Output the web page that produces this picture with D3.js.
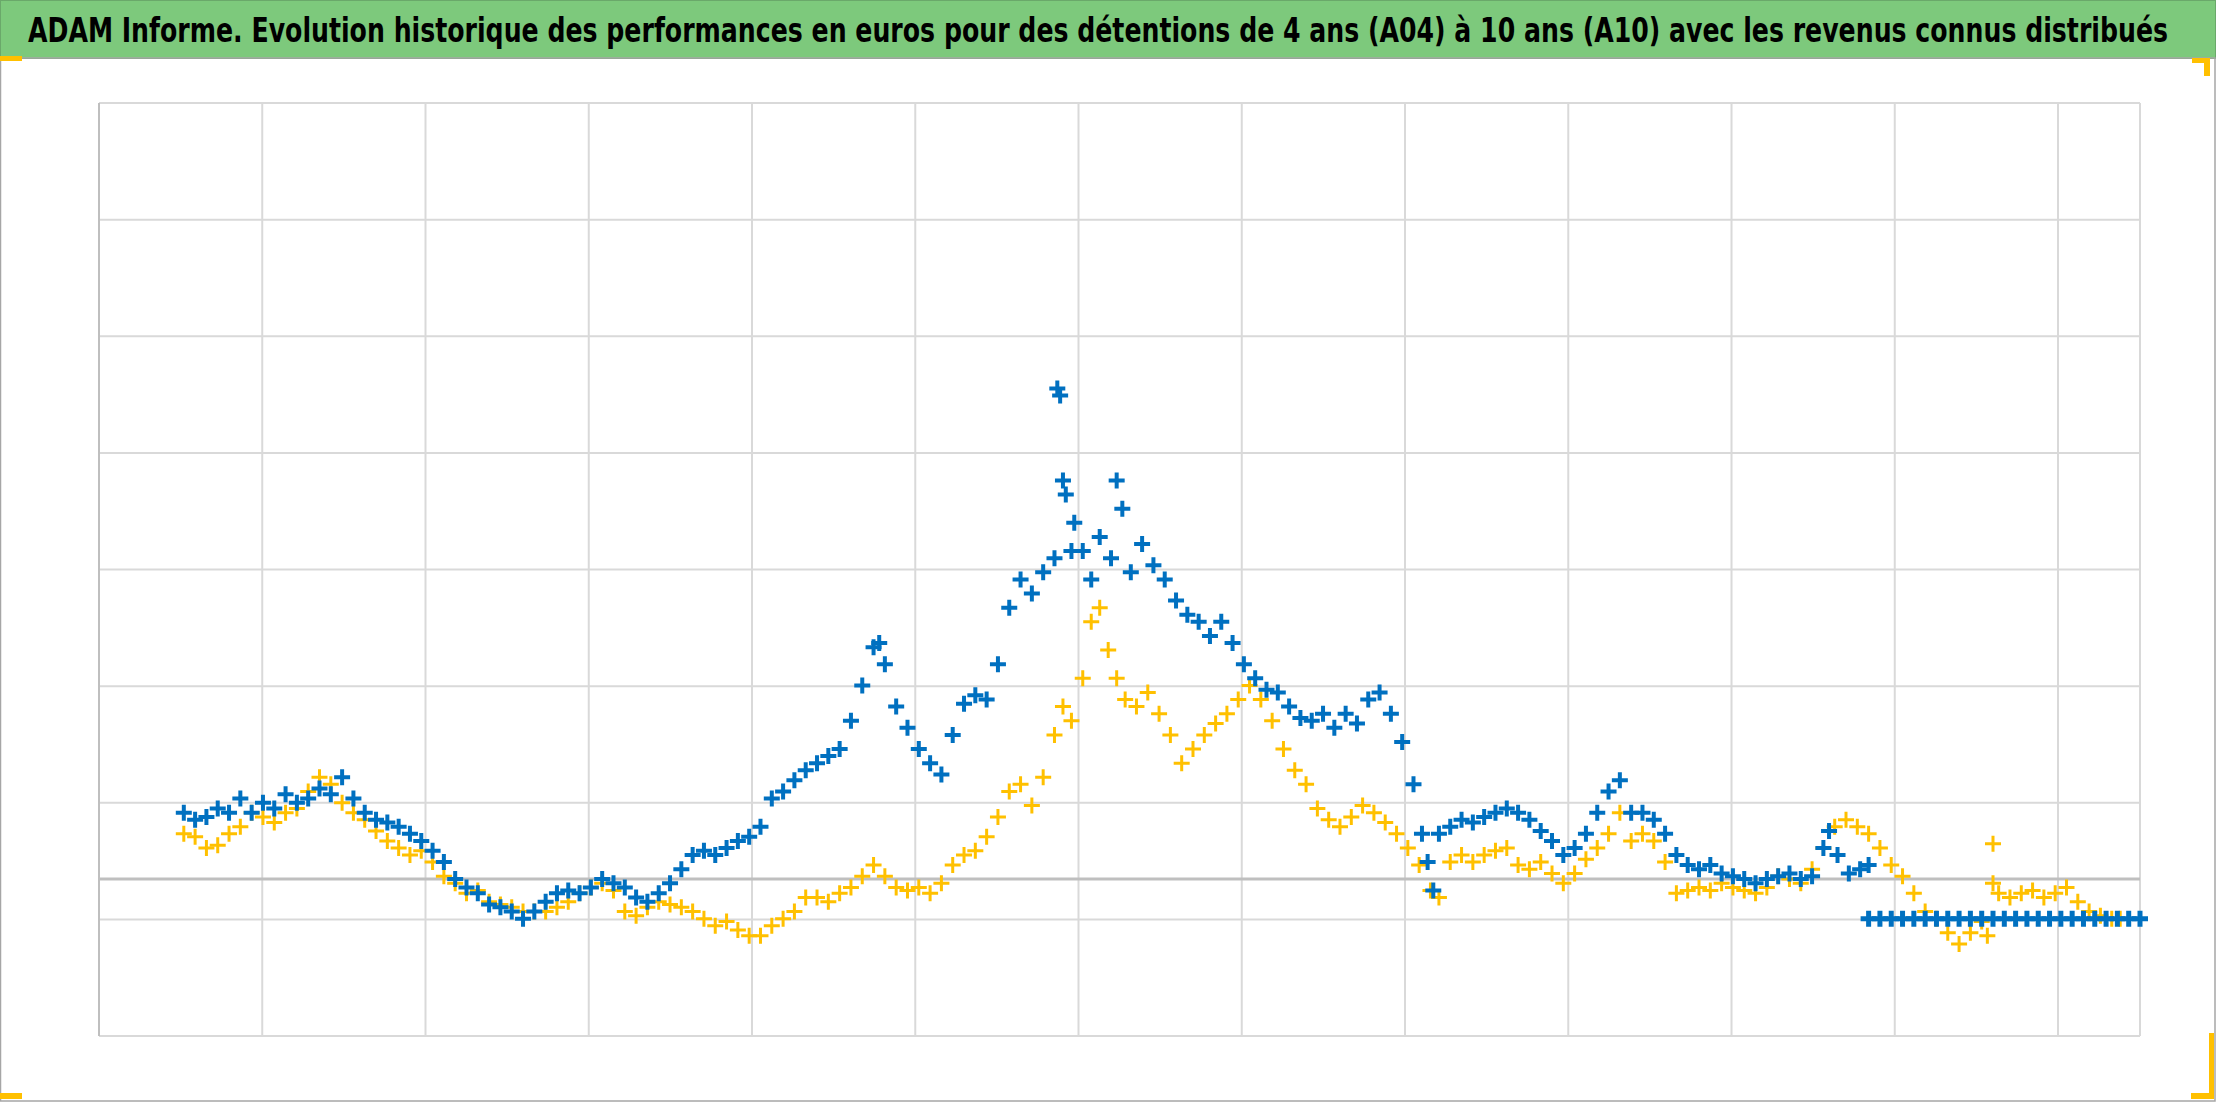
<!DOCTYPE html>
<html lang="fr">
<head>
<meta charset="UTF-8">
<title>ADAM Informe</title>
<script src="https://d3js.org/d3.v7.min.js"></script>
<style>
  body { margin: 0; background: #fff; }
  .grid line { stroke: #d9d9d9; stroke-width: 2px; }
  .mark { fill: none; }
</style>
</head>
<body>
<script>
// durée (index de jours) et performance en euros (échelle interne, pas d'étiquettes)
const titleText = "ADAM Informe. Evolution historique des performances en euros pour des détentions de 4 ans (A04) à 10 ans (A10) avec les revenus connus distribués";

const a10 = [[130,47],[138,42],[146,44],[154,50],[162,47],[170,57],[178,47],[186,54],[194,50],[202,60],[210,54],[218,57],[226,64],[234,60],[242,72],[250,57],[258,47],[266,42],[274,40],[282,37],[290,32],[298,27],[306,20],[314,12],[322,0],[330,-6],[338,-10],[346,-18],[354,-20],[362,-23],[370,-28],[378,-23],[386,-16],[394,-10],[402,-8],[410,-10],[418,-6],[426,0],[434,-3],[442,-6],[450,-13],[458,-16],[466,-10],[474,-3],[482,7],[490,17],[498,20],[506,17],[514,22],[522,27],[530,30],[538,37],[546,57],[554,62],[562,70],[570,77],[578,82],[586,87],[594,92],[602,112],[610,137],[618,164],[622,167],[626,152],[634,122],[642,107],[650,92],[658,82],[666,74],[674,102],[682,124],[690,130],[698,127],[706,152],[714,192],[722,212],[730,202],[738,217],[746,227],[748,347],[750,342],[752,282],[754,272],[758,232],[760,252],[766,232],[772,212],[778,242],[786,227],[790,282],[794,262],[800,217],[808,237],[816,222],[824,212],[832,197],[840,187],[848,182],[856,172],[864,182],[872,167],[880,152],[888,142],[896,134],[904,132],[912,122],[920,114],[928,112],[936,117],[944,107],[952,117],[960,110],[968,127],[976,132],[984,117],[992,97],[1000,67],[1006,32],[1010,12],[1014,-8],[1018,32],[1026,37],[1034,42],[1042,40],[1050,44],[1058,47],[1066,50],[1074,47],[1082,42],[1090,34],[1098,27],[1106,17],[1114,22],[1122,32],[1130,47],[1138,62],[1146,70],[1154,47],[1162,47],[1170,42],[1178,32],[1186,17],[1194,10],[1202,7],[1210,10],[1218,4],[1226,2],[1234,0],[1242,-3],[1250,0],[1258,2],[1266,4],[1274,0],[1282,2],[1290,22],[1294,34],[1300,17],[1308,4],[1316,7],[1322,10]];

const a10Flat = [[1322,-28],[1330,-28],[1338,-28],[1346,-28],[1354,-28],[1362,-28],[1370,-28],[1378,-28],[1386,-28],[1394,-28],[1402,-28],[1410,-28],[1418,-28],[1426,-28],[1434,-28],[1442,-28],[1450,-28],[1458,-28],[1466,-28],[1474,-28],[1482,-28],[1490,-28],[1498,-28],[1506,-28],[1514,-28]];

const a04 = [[130,32],[138,30],[146,22],[154,24],[162,32],[170,37],[178,47],[186,44],[194,40],[202,47],[210,50],[218,62],[226,72],[234,67],[242,54],[250,47],[258,42],[266,34],[274,27],[282,22],[290,17],[298,20],[306,12],[314,2],[322,-3],[330,-10],[338,-8],[346,-16],[354,-18],[362,-20],[370,-23],[378,-23],[386,-23],[394,-20],[402,-16],[410,-10],[418,-6],[426,-3],[434,-8],[442,-23],[450,-26],[458,-20],[466,-16],[474,-18],[482,-20],[490,-23],[498,-28],[506,-33],[514,-30],[522,-36],[530,-40],[538,-40],[546,-33],[554,-28],[562,-23],[570,-13],[578,-13],[586,-16],[594,-10],[602,-6],[610,2],[618,10],[626,2],[634,-6],[642,-8],[650,-6],[658,-10],[666,-3],[674,10],[682,17],[690,20],[698,30],[706,44],[714,62],[722,67],[730,52],[738,72],[746,102],[752,122],[758,112],[766,142],[772,182],[778,192],[784,162],[790,142],[796,127],[804,122],[812,132],[820,117],[828,102],[836,82],[844,92],[852,102],[860,110],[868,117],[876,127],[884,137],[892,127],[900,112],[908,92],[916,77],[924,67],[932,50],[940,42],[948,37],[956,44],[964,52],[972,47],[980,40],[988,32],[996,22],[1004,10],[1012,-8],[1018,-13],[1026,12],[1034,17],[1042,12],[1050,17],[1058,20],[1066,22],[1074,10],[1082,7],[1090,12],[1098,4],[1106,-3],[1114,4],[1122,14],[1130,22],[1138,32],[1146,47],[1154,27],[1162,32],[1170,27],[1178,12],[1186,-10],[1194,-8],[1202,-6],[1210,-8],[1218,-3],[1226,-6],[1234,-8],[1242,-10],[1250,-6],[1258,2],[1266,0],[1274,-3],[1282,7],[1290,22],[1298,37],[1306,42],[1314,37],[1322,32],[1330,22],[1338,10],[1346,2],[1354,-10],[1362,-23],[1370,-28],[1378,-38],[1386,-46],[1394,-38],[1402,-30],[1406,-40],[1410,25],[1410,-3],[1414,-10],[1422,-13],[1430,-10],[1438,-8],[1446,-13],[1454,-10],[1462,-6],[1470,-16],[1478,-23],[1486,-26],[1494,-28],[1500,-28]];

const yGrid = [-111, -28.5, 54, 136.5, 219, 301.5, 384, 466.5, 549];
const xGrid = [70, 185.5, 301, 416.5, 532, 647.5, 763, 878.5, 994, 1109.5, 1225, 1340.5, 1456, 1514];

const W = 2216, H = 1102;
const svg = d3.select("body").append("svg").attr("width", W).attr("height", H);

const x = d3.scaleLinear().domain([70, 1514]).range([99, 2140]);
const y = d3.scaleLinear().domain([-111, 549]).range([1036, 103]);

// bandeau du titre
svg.append("rect").attr("x", 0.5).attr("y", 0.5).attr("width", W - 1).attr("height", 58)
  .attr("fill", "#7dc97c").attr("stroke", "#6aa86a");
svg.append("text").attr("x", 28).attr("y", 42)
  .attr("font-family", "DejaVu Sans Condensed, DejaVu Sans, sans-serif")
  .attr("font-weight", "bold").attr("font-size", 33)
  .attr("textLength", 2140).attr("lengthAdjust", "spacingAndGlyphs")
  .text(titleText);

// cadre extérieur et coins jaunes
svg.append("rect").attr("x", 0.5).attr("y", 58).attr("width", W - 1.5).attr("height", H - 59)
  .attr("fill", "none").attr("stroke", "#a6a6a6").attr("stroke-width", 1.5);
const corner = svg.append("g").attr("fill", "#ffc000");
corner.append("rect").attr("x", 0).attr("y", 56).attr("width", 22).attr("height", 5);
corner.append("rect").attr("x", 2204).attr("y", 58).attr("width", 6).attr("height", 18);
corner.append("rect").attr("x", 2192).attr("y", 58).attr("width", 18).attr("height", 5);
corner.append("rect").attr("x", 0).attr("y", 1093).attr("width", 22).attr("height", 6);
corner.append("rect").attr("x", 2209).attr("y", 1033).attr("width", 5).attr("height", 66);
corner.append("rect").attr("x", 2191).attr("y", 1093).attr("width", 23).attr("height", 6);

// quadrillage
const grid = svg.append("g").attr("class", "grid");
grid.selectAll(".h").data(yGrid).join("line")
  .attr("x1", x(70)).attr("x2", x(1514)).attr("y1", d => y(d)).attr("y2", d => y(d));
grid.selectAll(".v").data(xGrid).join("line")
  .attr("y1", y(-111)).attr("y2", y(549)).attr("x1", d => x(d)).attr("x2", d => x(d));
svg.append("line").attr("x1", x(70)).attr("x2", x(70)).attr("y1", y(-111)).attr("y2", y(549))
  .attr("stroke", "#bfbfbf").attr("stroke-width", 2);
svg.append("line").attr("x1", x(70)).attr("x2", x(1514)).attr("y1", y(0)).attr("y2", y(0))
  .attr("stroke", "#bfbfbf").attr("stroke-width", 3);

// séries en croix
function draw(data, color, w, r) {
  svg.append("g").selectAll("path").data(data).join("path")
    .attr("class", "mark")
    .attr("transform", d => `translate(${x(d[0])},${y(d[1])})`)
    .attr("d", `M-${r},0H${r}M0,-${r}V${r}`)
    .attr("stroke", color).attr("stroke-width", w);
}
draw(a04, "#ffc000", 3, 8);
draw(a10, "#0070c0", 4, 8);
draw(a10Flat, "#0070c0", 5, 8);
</script>
</body>
</html>
